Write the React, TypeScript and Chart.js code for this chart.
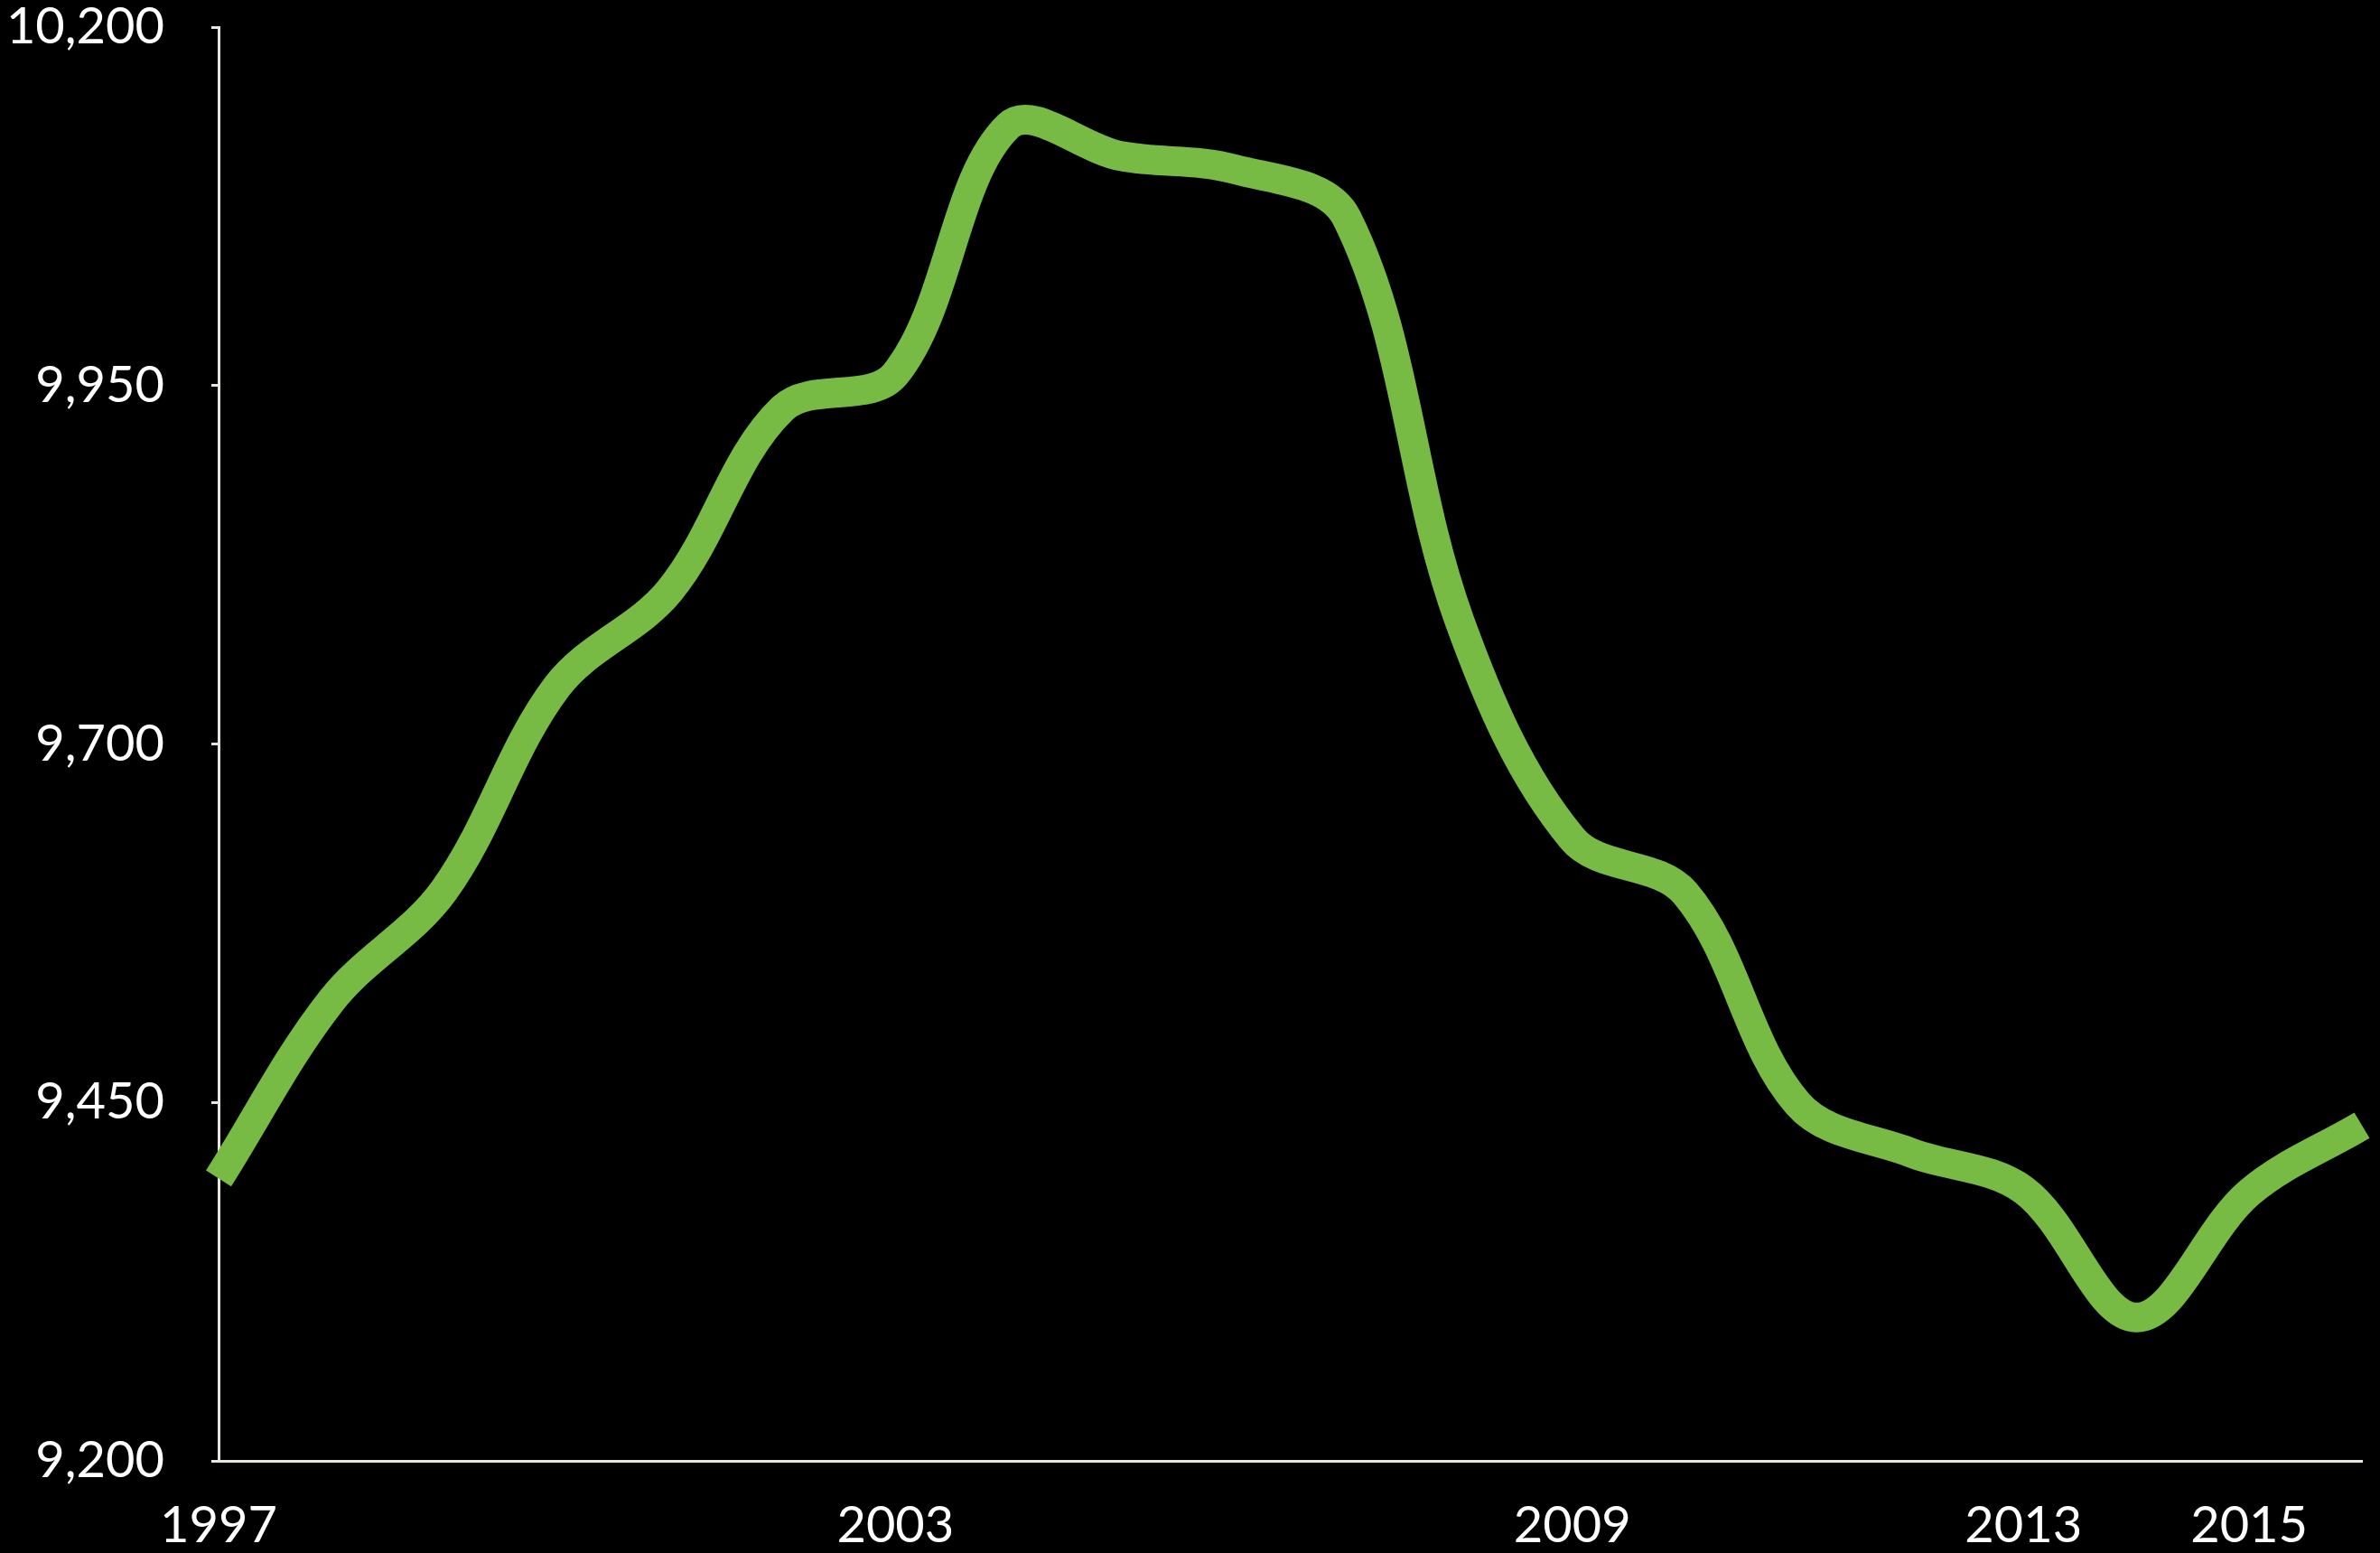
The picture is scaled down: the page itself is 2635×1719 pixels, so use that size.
import React, { useEffect, useRef } from "react";
import { Chart, registerables } from "chart.js";

Chart.register(...registerables);

const years: string[] = [
  "1997", "1998", "1999", "2000", "2001", "2002", "2003", "2004", "2005", "2006",
  "2007", "2008", "2009", "2010", "2011", "2012", "2013", "2014", "2015", "2016",
];

const values: number[] = [
  9397, 9521, 9598, 9740, 9807, 9934, 9958, 10131, 10110, 10101,
  10067, 9786, 9634, 9596, 9449, 9415, 9389, 9300, 9387, 9434,
];

const shownYearLabels: string[] = ["1997", "2003", "2009", "2013", "2015"];

const yMin = 9200;
const yMax = 10200;
const yStep = 250;

const W = 2635;
const H = 1719;

export default function App() {
  const ref = useRef<HTMLCanvasElement | null>(null);

  useEffect(() => {
    const canvas = ref.current;
    if (!canvas) return;
    const axisColor = "#e9e5df";
    const font = { family: "Lato, 'Open Sans', sans-serif", size: 56 };
    const chart = new Chart(canvas, {
      type: "line",
      data: {
        labels: years,
        datasets: [
          {
            data: values,
            borderColor: "#78bb44",
            backgroundColor: "#78bb44",
            borderWidth: 33,
            borderCapStyle: "butt",
            borderJoinStyle: "round",
            pointRadius: 0,
            pointHoverRadius: 0,
            tension: 0.35,
            fill: false,
            clip: false,
          },
        ],
      },
      options: {
        animation: false,
        responsive: false,
        devicePixelRatio: 1,
        events: [],
        layout: { padding: { top: 30, right: 20, bottom: 0, left: 0 } },
        plugins: {
          legend: { display: false },
          tooltip: { enabled: false },
          title: { display: false },
        },
        scales: {
          x: {
            type: "category",
            offset: false,
            grid: { display: false, drawTicks: false },
            border: { display: true, color: axisColor, width: 3 },
            ticks: {
              autoSkip: false,
              maxRotation: 0,
              minRotation: 0,
              color: "#ffffff",
              font,
              padding: 38,
              callback: function (this: any, val: any, idx: number) {
                const lab = years[idx];
                return shownYearLabels.includes(lab) ? lab : "";
              },
            },
            afterFit: (scale: any) => {
              scale.height = 102;
              scale.paddingLeft = 0;
              scale.paddingRight = 0;
            },
          },
          y: {
            min: yMin,
            max: yMax,
            grid: {
              display: true,
              drawOnChartArea: false,
              drawTicks: true,
              tickLength: 8,
              color: axisColor,
              lineWidth: 3,
            },
            border: { display: true, color: axisColor, width: 3 },
            ticks: {
              stepSize: yStep,
              color: "#ffffff",
              font,
              padding: 52,
            },
            afterFit: (scale: any) => {
              scale.width = 242;
              scale.paddingTop = 0;
              scale.paddingBottom = 0;
            },
          },
        },
      },
    });
    return () => chart.destroy();
  }, []);

  return (
    <div
      style={{
        position: "fixed",
        left: 0,
        top: 0,
        width: W,
        height: H,
        background: "#000000",
      }}
    >
      <canvas ref={ref} width={W} height={H} style={{ width: W, height: H, display: "block" }} />
    </div>
  );
}
